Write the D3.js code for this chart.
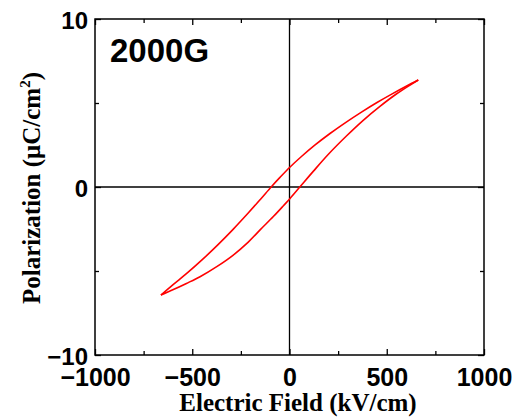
<!DOCTYPE html>
<html>
<head>
<meta charset="utf-8">
<script src="https://cdn.jsdelivr.net/npm/d3@7"></script>
<style>
  body { margin: 0; background: #fff; }
  .tick text { font-family: "Liberation Sans", Arial, sans-serif; font-weight: bold; font-size: 24px; fill: #000; }
  .xaxis .tick text { font-size: 25px; }
  .title { font-family: "Liberation Serif", "Times New Roman", serif; font-weight: bold; font-size: 25px; fill: #000; }
</style>
</head>
<body>
<script>
//data: field (kV/cm) and polarization (uC/cm2)
//upper branch, field going down from +Emax to -Emax
var upperE = [662, 600, 530, 450, 370, 290, 210, 130, 60, 3, -49, -92, -150, -210, -290, -370, -450, -530, -600, -661];
var upperP = [6.37, 6.00, 5.56, 5.03, 4.46, 3.85, 3.20, 2.49, 1.80, 1.19, 0.57, 0.03, -0.74, -1.52, -2.52, -3.46, -4.34, -5.16, -5.82, -6.43];
//lower branch, field going up from -Emax to +Emax
var lowerE = [-661, -600, -530, -460, -374, -289, -212, -150, -83, -30, 3, 54, 122, 200, 294, 379, 465, 551, 620, 662];
var lowerP = [-6.43, -6.12, -5.74, -5.34, -4.74, -4.05, -3.28, -2.54, -1.76, -1.10, -0.68, 0.01, 0.93, 1.95, 3.05, 3.97, 4.80, 5.55, 6.07, 6.37];

var xMajor = [-1000, -500, 0, 500, 1000];
var xMinor = [-750, -250, 250, 750];
var yMajor = [-10, 0, 10];
var yMinor = [-5, 5];

var sampleLabel = "2000G";

var margin = {top: 19, bottom: 63, right: 34, left: 95};
var width = 518 - margin.left - margin.right;
var height = 418 - margin.top - margin.bottom;

var xScale = d3.scaleLinear().domain([-1000, 1000]).range([0, width]);
var yScale = d3.scaleLinear().domain([-10, 10]).range([height, 0]);
var fmt = d3.format("d");

var svg = d3.select("body").append("svg")
    .attr("width", 518)
    .attr("height", 418);

var g = svg.append("g")
    .attr("transform", "translate(" + margin.left + "," + margin.top + ")");

//zero lines
g.append("line")
    .attr("x1", 0).attr("x2", width)
    .attr("y1", yScale(0)).attr("y2", yScale(0))
    .attr("stroke", "#000").attr("stroke-width", 1.3);
g.append("line")
    .attr("x1", xScale(0)).attr("x2", xScale(0))
    .attr("y1", 0).attr("y2", height)
    .attr("stroke", "#000").attr("stroke-width", 1.3);

//axes, ticks pointing inward
function styleAxis(sel) {
    sel.select(".domain").remove();
    sel.selectAll(".tick line").attr("stroke", "#000").attr("stroke-width", 1.3);
}

g.append("g")
    .attr("class", "xaxis")
    .attr("transform", "translate(0," + height + ")")
    .call(d3.axisBottom(xScale).tickValues(xMajor).tickSize(-6).tickPadding(13).tickFormat(fmt))
    .call(styleAxis);
g.append("g")
    .attr("transform", "translate(0," + height + ")")
    .call(d3.axisBottom(xScale).tickValues(xMinor).tickSize(-4).tickFormat(""))
    .call(styleAxis);
g.append("g")
    .call(d3.axisTop(xScale).tickValues(xMajor).tickSize(-6).tickFormat(""))
    .call(styleAxis);
g.append("g")
    .call(d3.axisTop(xScale).tickValues(xMinor).tickSize(-4).tickFormat(""))
    .call(styleAxis);

g.append("g")
    .attr("class", "yaxis")
    .call(d3.axisLeft(yScale).tickValues(yMajor).tickSize(-6).tickPadding(7).tickFormat(fmt))
    .call(styleAxis);
g.append("g")
    .call(d3.axisLeft(yScale).tickValues(yMinor).tickSize(-4).tickFormat(""))
    .call(styleAxis);
g.append("g")
    .attr("transform", "translate(" + width + ",0)")
    .call(d3.axisRight(yScale).tickValues(yMajor).tickSize(-6).tickFormat(""))
    .call(styleAxis);
g.append("g")
    .attr("transform", "translate(" + width + ",0)")
    .call(d3.axisRight(yScale).tickValues(yMinor).tickSize(-4).tickFormat(""))
    .call(styleAxis);

g.selectAll(".yaxis .tick text").attr("dy", "0.4em");

//frame
g.append("rect")
    .attr("width", width).attr("height", height)
    .attr("fill", "none")
    .attr("stroke", "#000").attr("stroke-width", 1.5);

//hysteresis loop
var line = d3.line()
    .x(function(d) { return xScale(d[0]); })
    .y(function(d) { return yScale(d[1]); })
    .curve(d3.curveCatmullRom.alpha(0.5));

var upper = upperE.map(function(e, i) { return [e, upperP[i]]; });
var lower = lowerE.map(function(e, i) { return [e, lowerP[i]]; });

[upper, lower].forEach(function(branch) {
    g.append("path")
        .attr("d", line(branch))
        .attr("fill", "none")
        .attr("stroke", "#ff0000")
        .attr("stroke-width", 1.6);
});

//sample label
g.append("text")
    .attr("x", 15)
    .attr("y", 43)
    .style("font-family", "'Liberation Sans', Arial, sans-serif")
    .style("font-weight", "bold")
    .style("font-size", "33px")
    .text(sampleLabel);

//axis titles
svg.append("text")
    .attr("class", "title")
    .attr("x", 298)
    .attr("y", 411)
    .attr("text-anchor", "middle")
    .text("Electric Field (kV/cm)");

var yt = svg.append("text")
    .attr("class", "title")
    .attr("transform", "translate(40,188) rotate(-90)")
    .attr("text-anchor", "middle");
yt.append("tspan").text("Polarization (\u03bcC/cm");
yt.append("tspan").attr("dy", -10).style("font-size", "15px").text("2");
yt.append("tspan").attr("dy", 10).text(")");
</script>
</body>
</html>
